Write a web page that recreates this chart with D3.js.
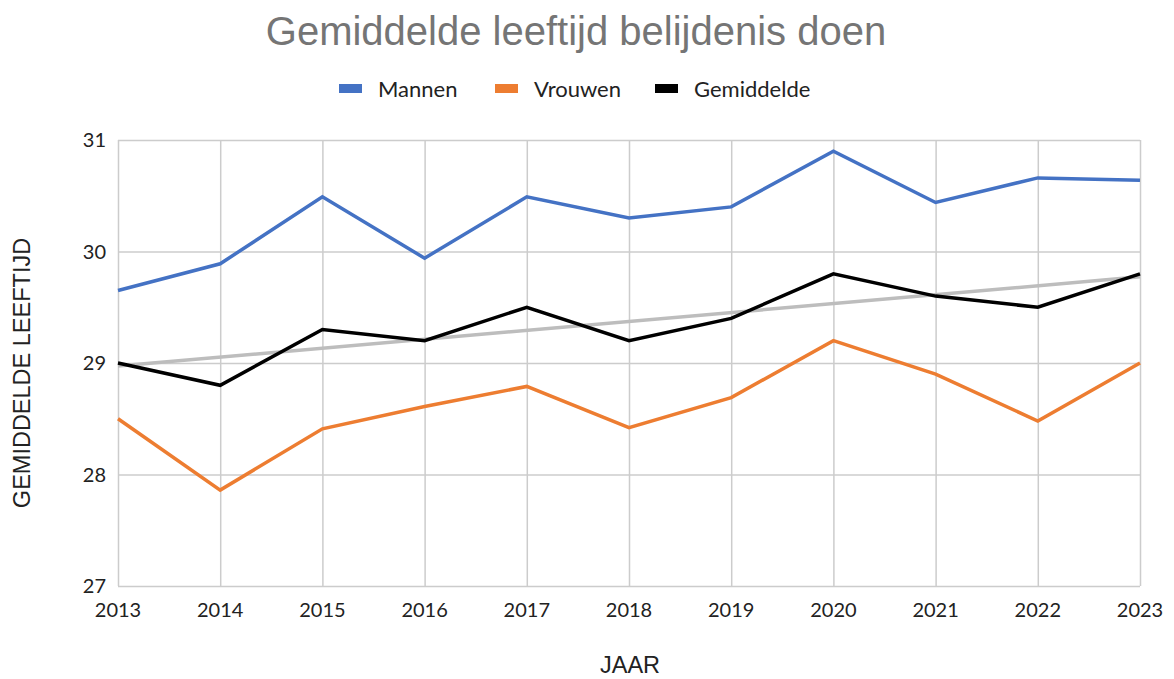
<!DOCTYPE html>
<html>
<head>
<meta charset="utf-8">
<script src="https://cdn.jsdelivr.net/npm/d3@7"></script>
<style>
  body { margin: 0; background: #fff; }
  svg { display: block; }
</style>
</head>
<body>
<div id="main"></div>
<script>
var years = [2013, 2014, 2015, 2016, 2017, 2018, 2019, 2020, 2021, 2022, 2023];
var mannen = [29.65, 29.89, 30.49, 29.94, 30.49, 30.30, 30.40, 30.90, 30.44, 30.66, 30.64];
var vrouwen = [28.50, 27.86, 28.41, 28.61, 28.79, 28.42, 28.69, 29.20, 28.90, 28.48, 29.00];
var gemiddelde = [29.0, 28.8, 29.3, 29.2, 29.5, 29.2, 29.4, 29.8, 29.6, 29.5, 29.8];
var yTicks = [27, 28, 29, 30, 31];

var width = 1174, height = 679;
var plotLeft = 118, plotRight = 1140, plotTop = 140, plotBottom = 586;

var svg = d3.select("#main").append("svg")
  .attr("width", width)
  .attr("height", height);

var x = d3.scaleLinear().domain([2013, 2023]).range([plotLeft, plotRight]);
var y = d3.scaleLinear().domain([27, 31]).range([plotBottom, plotTop]);

// grid
svg.append("g")
  .attr("transform", "translate(" + plotLeft + ",0)")
  .call(d3.axisLeft(y).tickValues(yTicks).tickSize(-(plotRight - plotLeft)).tickFormat(""))
  .call(function(g) { g.select(".domain").remove(); })
  .selectAll("line").attr("stroke", "#cccccc").attr("stroke-width", 1.5);

svg.append("g")
  .attr("transform", "translate(0," + plotBottom + ")")
  .call(d3.axisBottom(x).tickValues(years).tickSize(-(plotBottom - plotTop)).tickFormat(""))
  .call(function(g) { g.select(".domain").remove(); })
  .selectAll("line").attr("stroke", "#cccccc").attr("stroke-width", 1.5);

// tick labels
svg.selectAll(".ylab").data(yTicks).enter().append("text")
  .attr("x", 106)
  .attr("y", function(d) { return y(d) + 7; })
  .attr("text-anchor", "end")
  .style("font-family", "Lato")
  .style("font-size", "20px")
  .style("fill", "#222")
  .text(function(d) { return d; });

svg.selectAll(".xlab").data(years).enter().append("text")
  .attr("x", function(d) { return x(d); })
  .attr("y", 617)
  .attr("text-anchor", "middle")
  .style("font-family", "Lato")
  .style("font-size", "20px")
  .style("fill", "#222")
  .text(function(d) { return d; });

// trendline of gemiddelde (least squares)
var mx = d3.mean(years), my = d3.mean(gemiddelde);
var sxy = d3.sum(years, function(d, i) { return (d - mx) * (gemiddelde[i] - my); });
var sxx = d3.sum(years, function(d) { return (d - mx) * (d - mx); });
var slope = sxy / sxx, icpt = my - slope * mx;

svg.append("line")
  .attr("x1", x(2013)).attr("y1", y(icpt + slope * 2013))
  .attr("x2", x(2023)).attr("y2", y(icpt + slope * 2023))
  .attr("stroke", "#bdbdbd")
  .attr("stroke-width", 3.5);

var line = d3.line()
  .x(function(d, i) { return x(years[i]); })
  .y(function(d) { return y(d); });

var series = [
  { name: "Mannen", values: mannen, color: "#4472c4" },
  { name: "Vrouwen", values: vrouwen, color: "#ed7d31" },
  { name: "Gemiddelde", values: gemiddelde, color: "#000000" }
];

series.forEach(function(s) {
  svg.append("path")
    .attr("d", line(s.values))
    .attr("fill", "none")
    .attr("stroke", s.color)
    .attr("stroke-width", 3.5)
    .attr("stroke-linejoin", "miter");
});

// title
svg.append("text")
  .attr("x", 576)
  .attr("y", 45)
  .attr("text-anchor", "middle")
  .style("font-family", "Liberation Sans, Arial")
  .style("font-size", "40px")
  .style("fill", "#757575")
  .text("Gemiddelde leeftijd belijdenis doen");

// legend
var legendX = [339, 495, 655];
series.forEach(function(s, i) {
  svg.append("rect")
    .attr("x", legendX[i]).attr("y", 84)
    .attr("width", 23).attr("height", 9)
    .attr("fill", s.color);
  svg.append("text")
    .attr("x", legendX[i] + 39)
    .attr("y", 97)
    .style("font-family", "Lato")
    .style("font-size", "22px")
    .style("fill", "#222")
    .text(s.name);
});

// axis titles
svg.append("text")
  .attr("x", 630)
  .attr("y", 673)
  .attr("text-anchor", "middle")
  .style("font-family", "Liberation Sans, Arial")
  .style("font-size", "23.5px")
  .style("fill", "#222")
  .text("JAAR");

svg.append("text")
  .attr("transform", "translate(30,373) rotate(-90)")
  .attr("text-anchor", "middle")
  .style("font-family", "Liberation Sans, Arial")
  .style("font-size", "23.5px")
  .style("fill", "#222")
  .text("GEMIDDELDE LEEFTIJD");
</script>
</body>
</html>
